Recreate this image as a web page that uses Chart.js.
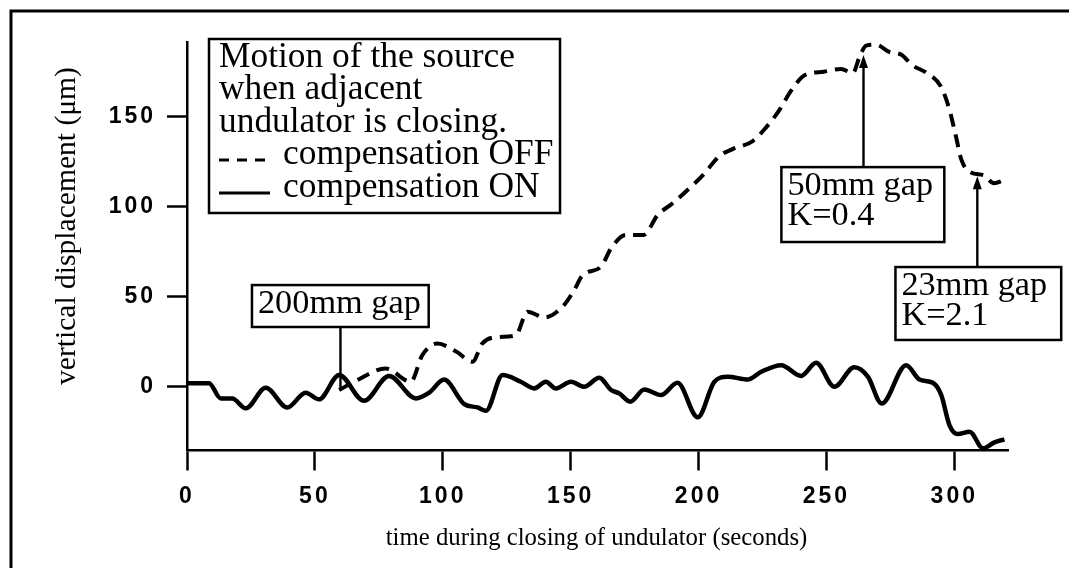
<!DOCTYPE html>
<html><head><meta charset="utf-8">
<script src="https://cdn.jsdelivr.net/npm/chart.js@4/dist/chart.umd.min.js"></script>
<style>html,body{margin:0;padding:0;background:#fff;} #wrap{width:1069px;height:568px;position:relative;}</style>
</head><body><div id="wrap"><canvas id="c"></canvas></div>
<script>
// ---- data ----
const timeOn = [0, 8.6, 13.2, 17.7, 23, 30.8, 39.2, 46.4, 51.6, 59.5, 69.2, 79, 89.5, 94.7, 100.5, 108.4, 113.6, 116.9, 123.4, 130.5, 135.8, 140.3, 144.2, 150.1, 155.3, 161.2, 165.8, 169, 173.3, 178.8, 185.3, 191.8, 199.7, 206.2, 211.4, 219.3, 224.5, 232.3, 240.1, 246, 253.1, 260.9, 266.2, 271.6, 281.2, 286.4, 291.6, 294.9, 298.1, 301.4, 306, 311.2, 315.7, 319.6];
const dispOn = [2, 2, -6.5, -6.5, -12, -0.5, -11.5, -3.3, -7, 6.5, -7.8, 6, -6.5, -3.3, 4, -9.6, -11.5, -13.3, 6.5, 2.8, -0.9, 2.8, -0.9, 2.8, 0, 5, -1.8, -3.7, -8.3, -1.5, -4.6, 2.2, -17, 2.8, 5.6, 4, 8.3, 12, 6, 13.3, 0, 10.8, 5.6, -9.3, 12, 4, 2.2, -4.6, -21.3, -26.3, -25, -34.2, -30.9, -29.2];
const timeOff = [59.5, 66.6, 77.7, 87.5, 92, 97.9, 105.4, 111.6, 115.5, 122, 128.6, 133.1, 139.7, 146.8, 151.4, 154.7, 161.9, 165.8, 171.6, 178.5, 184, 189.9, 195.5, 202, 208, 213.3, 221.2, 226.4, 231.6, 236.2, 241.5, 249, 255.7, 260.3, 262.9, 265.5, 269.4, 274.6, 279.2, 283.7, 289, 294.8, 298, 300.5, 302.8, 306.5, 311.5, 315.5, 319.5];
const dispOff = [-1.8, 3.7, 10.2, 2.8, 17.6, 24, 19.4, 13.9, 24.1, 27.6, 28.7, 41.7, 38.5, 44.4, 53.7, 62, 66.7, 76.9, 84.3, 84.3, 95.4, 101.9, 109, 118, 128, 132, 136.5, 144, 153.7, 164.5, 173, 175, 176.5, 174.2, 183, 189.5, 190, 186, 184.5, 178.5, 174.5, 166.7, 154.5, 140, 126, 119, 117.5, 113, 114.8];
const xTicks = [0, 50, 100, 150, 200, 250, 300];
const yTicks = [0, 50, 100, 150];
const seriesNames = ['compensation OFF', 'compensation ON'];
const legendTitle = ['Motion of the source', 'when adjacent', 'undulator is closing.'];
const xTitle = 'time during closing of undulator (seconds)';
const yTitle = 'vertical displacement (\u03BCm)';
const noteTexts = [['200mm gap'], ['50mm gap', 'K=0.4'], ['23mm gap', 'K=2.1']];
const noteTimes = [60, 264.5, 309];      // time where each note points
const noteTargets = [-2, 184.3, 117];    // value the pointer reaches

// ---- annotation geometry (data units) ----
const noteBoxes = [
  {x0: 25.4, x1: 94.5, top: 56.5, bot: 33.2, arrow: false},
  {x0: 232.4, x1: 296.1, top: 122, bot: 80.4, arrow: true},
  {x0: 277, x1: 341.8, top: 66.5, bot: 26, arrow: true}
];

const SERIF = "'Liberation Serif', 'Times New Roman', serif";
function fit(ctx, text, width) {
  ctx.font = '100px ' + SERIF;
  return 100 * width / ctx.measureText(text).width;
}

const deco = {
  id: 'deco',
  beforeDraw(chart) {
    const ctx = chart.ctx;
    ctx.save();
    ctx.fillStyle = '#fff';
    ctx.fillRect(0, 0, chart.width, chart.height);
    ctx.strokeStyle = '#000';
    ctx.lineWidth = 3;
    ctx.beginPath(); ctx.moveTo(11, 568); ctx.lineTo(11, 11); ctx.lineTo(1069, 11); ctx.stroke();
    ctx.restore();
    ctx.letterSpacing = '3px';
  },
  afterDraw(chart) {
    const ctx = chart.ctx;
    ctx.letterSpacing = '0px';
    const xs = chart.scales.x, ys = chart.scales.y;
    ctx.save();
    ctx.fillStyle = '#000'; ctx.strokeStyle = '#000';
    // axis titles
    let s = fit(ctx, xTitle, 422);
    ctx.font = s + 'px ' + SERIF; ctx.textAlign = 'center'; ctx.textBaseline = 'middle';
    ctx.fillText(xTitle, (xs.left + xs.right) / 2 - 1, 538);
    s = fit(ctx, yTitle, 318);
    ctx.save(); ctx.translate(67, 226); ctx.rotate(-Math.PI / 2);
    ctx.font = s + 'px ' + SERIF; ctx.fillText(yTitle, 0, 0); ctx.restore();

    // legend box
    const ls = fit(ctx, legendTitle[0], 296);
    ctx.lineWidth = 2.5;
    ctx.strokeRect(209, 39, 351, 174);
    ctx.font = ls + 'px ' + SERIF; ctx.textAlign = 'left'; ctx.textBaseline = 'alphabetic';
    legendTitle.forEach((t, i) => ctx.fillText(t, 219, 66.7 + i * 32.5));
    ctx.fillText(seriesNames[0], 283, 66.7 + 3 * 32.5);
    ctx.fillText(seriesNames[1], 283, 66.7 + 4 * 32.5);
    ctx.lineWidth = 3;
    for (let k = 0; k < 3; k++) { ctx.beginPath(); ctx.moveTo(219 + k * 18, 160); ctx.lineTo(229 + k * 18, 160); ctx.stroke(); }
    ctx.beginPath(); ctx.moveTo(219, 193); ctx.lineTo(270, 193); ctx.stroke();

    // notes
    const ns = fit(ctx, noteTexts[0][0], 163);
    noteBoxes.forEach((b, i) => {
      const x0 = xs.getPixelForValue(b.x0), x1 = xs.getPixelForValue(b.x1);
      const y0 = ys.getPixelForValue(b.top), y1 = ys.getPixelForValue(b.bot);
      ctx.fillStyle = '#fff'; ctx.fillRect(x0, y0, x1 - x0, y1 - y0);
      ctx.fillStyle = '#000';
      ctx.lineWidth = 2.5; ctx.strokeRect(x0, y0, x1 - x0, y1 - y0);
      ctx.font = ns + 'px ' + SERIF; ctx.textAlign = 'left'; ctx.textBaseline = 'alphabetic';
      noteTexts[i].forEach((t, j) => ctx.fillText(t, x0 + 6, y0 + 28 + j * 30));
      const px = xs.getPixelForValue(noteTimes[i]);
      const ty = ys.getPixelForValue(noteTargets[i]);
      ctx.lineWidth = 2.4;
      ctx.beginPath();
      if (b.arrow) { ctx.moveTo(px, y0); ctx.lineTo(px, ty + 8); }
      else { ctx.moveTo(px, y1); ctx.lineTo(px, ty); }
      ctx.stroke();
      if (b.arrow) {
        ctx.beginPath(); ctx.moveTo(px, ty); ctx.lineTo(px - 4.5, ty + 13); ctx.lineTo(px + 4.5, ty + 13); ctx.closePath(); ctx.fill();
      }
    });
    ctx.restore();
  }
};

const tickFont = {family: "'Liberation Sans', Arial, sans-serif", size: 23, weight: 'bold'};
new Chart(document.getElementById('c'), {
  type: 'line',
  data: {
    datasets: [
      {label: seriesNames[0], data: timeOff.map((t, i) => ({x: t, y: dispOff[i]})), borderColor: '#000', borderWidth: 4, borderDash: [13, 8], borderCapStyle: 'butt', pointRadius: 0, cubicInterpolationMode: 'monotone', fill: false},
      {label: seriesNames[1], data: timeOn.map((t, i) => ({x: t, y: dispOn[i]})), borderColor: '#000', borderWidth: 4.5, pointRadius: 0, cubicInterpolationMode: 'monotone', fill: false}
    ]
  },
  options: {
    responsive: true, maintainAspectRatio: false, animation: false,
    layout: {padding: {left: 0, top: 42, right: 61, bottom: 0}},
    plugins: {legend: {display: false}, tooltip: {enabled: false}},
    scales: {
      x: {
        type: 'linear', min: 0, max: 321,
        afterFit(s) { s.height = 117.5; },
        afterBuildTicks(s) { s.ticks = xTicks.map(v => ({value: v})); },
        grid: {drawOnChartArea: false, drawTicks: true, tickLength: 20, tickWidth: 2.5, color: '#000'},
        border: {display: true, color: '#000', width: 2.5},
        ticks: {color: '#000', font: tickFont, padding: 12, maxRotation: 0, autoSkip: false, callback: v => String(v)},
        title: {display: false}
      },
      y: {
        type: 'linear', min: -35.4, max: 191.5,
        afterFit(s) { s.width = 187; },
        afterBuildTicks(s) { s.ticks = yTicks.map(v => ({value: v})); },
        grid: {drawOnChartArea: false, drawTicks: true, tickLength: 20, tickWidth: 2.5, color: '#000'},
        border: {display: true, color: '#000', width: 2.5},
        ticks: {color: '#000', font: tickFont, padding: 11, autoSkip: false, callback: v => String(v)},
        title: {display: false}
      }
    }
  },
  plugins: [deco]
});
</script>
</body></html>
